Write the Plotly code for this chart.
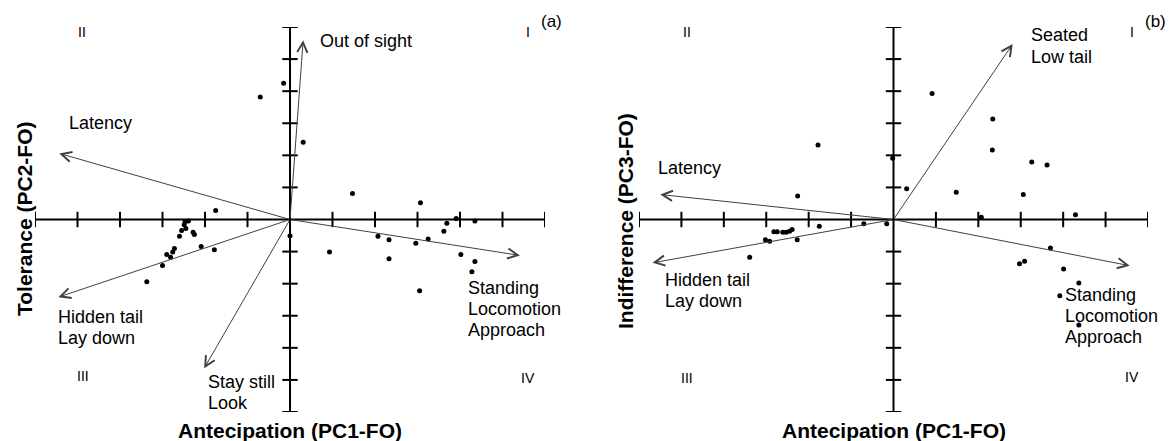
import plotly.graph_objects as go

W, H = 1172, 441
FONT = "Liberation Sans, Arial, sans-serif"

# ---------------- data ----------------
# Panel (a): PC1 vs PC2 scores
a_x = [-0.15, -0.70, 0.31,
       -1.75, -2.47, -2.39, -2.49, -2.45, -2.55, -2.28, -2.25, -2.60, -2.09, -1.78,
       -2.72, -2.76, -2.90, -2.81, -3.00, -3.37,
       0.00,
       1.47, 3.07, 0.93, 2.07, 2.33, 2.33, 2.96, 3.25, 3.62, 3.69, 3.91, 4.35, 4.02,
       4.35, 4.28, 3.05]
a_y = [4.25, 3.82, 2.41,
       0.28, -0.07, -0.05, -0.16, -0.28, -0.34, -0.40, -0.47, -0.52, -0.84, -0.94,
       -0.90, -1.01, -1.09, -1.18, -1.43, -1.94,
       -0.51,
       0.81, 0.52, -1.01, -0.52, -0.63, -1.22, -0.74, -0.61, -0.37, -0.12, 0.03, -0.05, -1.09,
       -1.31, -1.63, -2.22]

# Panel (a) loading vectors (tips)
a_vec_names = ["Out of sight", "Latency", "Hidden tail", "Stay still", "Standing"]
a_vec_x = [0.31, -5.43, -5.45, -2.02, 5.41]
a_vec_y = [5.59, 2.06, -2.42, -4.64, -1.12]

# Panel (b): PC1 vs PC3 scores
b_x = [0.91, 2.34, 2.33, -0.02, 3.26, 3.62, 0.31, 1.48, 3.06, 4.29, 2.07, -0.16,
       3.70, 2.97, 3.09, 4.01, 4.37, 3.92, 4.37,
       -1.78, -2.26, -1.75, -0.70, -2.82, -2.74, -2.61, -2.53, -2.45, -2.39,
       -3.02, -2.92, -2.27, -3.39]
b_y = [3.93, 3.13, 2.17, 1.91, 1.79, 1.70, 0.96, 0.85, 0.78, 0.15, 0.07, -0.13,
       -0.89, -1.38, -1.30, -1.54, -1.98, -2.38, -3.29,
       2.32, 0.73, -0.21, -0.13, -0.38, -0.38, -0.40, -0.40, -0.37, -0.31,
       -0.63, -0.68, -0.63, -1.18]

# Panel (b) loading vectors (tips)
b_vec_names = ["Seated", "Latency", "Hidden tail", "Standing"]
b_vec_x = [2.81, -5.50, -5.68, 5.57]
b_vec_y = [5.47, 0.78, -1.35, -1.44]

tick_vals = [-6, -5, -4, -3, -2, -1, 1, 2, 3, 4, 5, 6]

x_title = "Antecipation (PC1-FO)"
a_y_title = "Tolerance (PC2-FO)"
b_y_title = "Indifference (PC3-FO)"

# ---------------- figure ----------------
fig = go.Figure()

def px(x):
    return x / W

def py(y):
    return 1 - y / H

panels = [
    dict(xa="x", ya="y", sx=a_x, sy=a_y, vx=a_vec_x, vy=a_vec_y),
    dict(xa="x2", ya="y2", sx=b_x, sy=b_y, vx=b_vec_x, vy=b_vec_y),
]

shapes = []
annotations = []
for p in panels:
    # axis cross lines
    shapes.append(dict(type="line", xref=p["xa"], yref=p["ya"], x0=-6, x1=6, y0=0, y1=0,
                       line=dict(color="black", width=2), layer="below"))
    shapes.append(dict(type="line", xref=p["xa"], yref=p["ya"], x0=0, x1=0, y0=-6, y1=6,
                       line=dict(color="black", width=2), layer="below"))
    # tick marks on the crossing axes
    fig.add_trace(go.Scatter(x=tick_vals, y=[0] * len(tick_vals), xaxis=p["xa"], yaxis=p["ya"],
                             mode="markers", hoverinfo="skip", showlegend=False,
                             marker=dict(symbol="line-ns", size=11,
                                         line=dict(color="black", width=2))))
    fig.add_trace(go.Scatter(x=[0] * len(tick_vals), y=tick_vals, xaxis=p["xa"], yaxis=p["ya"],
                             mode="markers", hoverinfo="skip", showlegend=False,
                             marker=dict(symbol="line-ew", size=11,
                                         line=dict(color="black", width=2))))
    # loading arrows
    for vx, vy in zip(p["vx"], p["vy"]):
        annotations.append(dict(xref=p["xa"], yref=p["ya"], axref=p["xa"], ayref=p["ya"],
                                x=vx, y=vy, ax=0, ay=0, text="", showarrow=True,
                                arrowhead=5, arrowsize=2, arrowwidth=1,
                                arrowcolor="#404040", standoff=0, startstandoff=0))
    # scores
    fig.add_trace(go.Scatter(x=p["sx"], y=p["sy"], xaxis=p["xa"], yaxis=p["ya"],
                             mode="markers", showlegend=False,
                             marker=dict(color="black", size=5)))

def txt(text, x, y, size=18, xanchor="left", bold=False, angle=0):
    t = f"<b>{text}</b>" if bold else text
    annotations.append(dict(xref="paper", yref="paper", x=px(x), y=py(y), text=t,
                            showarrow=False, xanchor=xanchor, yanchor="middle",
                            textangle=angle, borderpad=0,
                            font=dict(family=FONT, size=size, color="black")))

# panel (a) labels
txt("Out of sight", 319, 41)
txt("Latency", 68, 123)
txt("Hidden tail", 57, 317)
txt("Lay down", 57, 338)
txt("Stay still", 207, 382)
txt("Look", 207, 403)
txt("Standing", 467, 288)
txt("Locomotion", 467, 309)
txt("Approach", 467, 330)
txt("II", 82, 32, 14, "center")
txt("I", 528, 32, 14, "center")
txt("III", 83, 376, 14, "center")
txt("IV", 528, 378, 14, "center")
txt("(a)", 551, 22, 17, "center")
txt(x_title, 290, 430, 21, "center", True)
txt(a_y_title, 24, 219, 21, "center", True, -90)

# panel (b) labels
txt("Seated", 1030, 35)
txt("Low tail", 1030, 57)
txt("Latency", 657, 168)
txt("Hidden tail", 664, 280)
txt("Lay down", 664, 301)
txt("Standing", 1064, 295)
txt("Locomotion", 1064, 316)
txt("Approach", 1064, 337)
txt("II", 687, 32, 14, "center")
txt("I", 1132, 32, 14, "center")
txt("III", 687, 378, 14, "center")
txt("IV", 1132, 377, 14, "center")
txt("(b)", 1155, 22, 17, "center")
txt(x_title, 894, 430, 21, "center", True)
txt(b_y_title, 626, 221, 21, "center", True, -90)

axis_common = dict(range=[-6, 6], visible=False, showgrid=False, zeroline=False, fixedrange=True)
fig.update_layout(
    width=W, height=H,
    margin=dict(l=0, r=0, t=0, b=0),
    paper_bgcolor="white", plot_bgcolor="white",
    showlegend=False,
    xaxis=dict(domain=[35 / W, 545 / W], anchor="y", **axis_common),
    yaxis=dict(domain=[py(412), py(27)], anchor="x", **axis_common),
    xaxis2=dict(domain=[639 / W, 1148 / W], anchor="y2", **axis_common),
    yaxis2=dict(domain=[py(412), py(27)], anchor="x2", **axis_common),
    shapes=shapes,
    annotations=annotations,
    font=dict(family=FONT),
)

fig.write_html("out.html")
